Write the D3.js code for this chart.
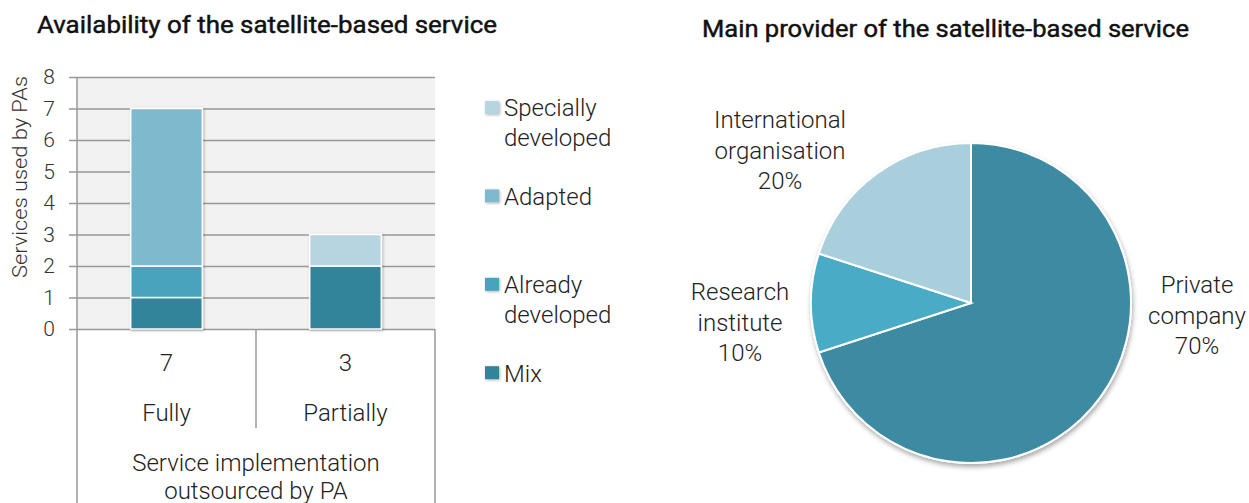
<!DOCTYPE html>
<html>
<head>
<meta charset="utf-8">
<script src="https://cdn.jsdelivr.net/npm/d3@7"></script>
<style>
  body { margin: 0; background: #fff; }
  svg { display: block; font-family: Roboto, "Noto Sans", sans-serif; }
</style>
</head>
<body>
<svg id="chart" width="1249" height="503"></svg>
<script>
// bar chart data
var categories = ["Fully", "Partially"];
var totals = [7, 3];
var seriesKeys = ["Mix", "Already developed", "Adapted", "Specially developed"];
var mixValues = [1, 2];
var alreadyValues = [1, 0];
var adaptedValues = [5, 0];
var speciallyValues = [0, 1];
var yTicks = [0, 1, 2, 3, 4, 5, 6, 7, 8];

// pie chart data
var providers = ["Private company", "Research institute", "International organisation"];
var providerShares = [70, 10, 20];
var providerLabels = [["Private", "company", "70%"], ["Research", "institute", "10%"], ["International", "organisation", "20%"]];

var seriesColors = ["#31849b", "#4aa3bc", "#7eb9ce", "#b7d5e0"];
var pieColors = ["#3d8ba3", "#4aabc6", "#aacfdc"];

var svg = d3.select("#chart");

var defs = svg.append("defs");
defs.append("filter").attr("id", "barShadow")
    .attr("x", "-20%").attr("y", "-20%").attr("width", "140%").attr("height", "140%")
  .append("feDropShadow")
    .attr("dx", 1).attr("dy", 1).attr("stdDeviation", 1.5)
    .attr("flood-color", "#000").attr("flood-opacity", 0.3);
defs.append("filter").attr("id", "pieShadow")
    .attr("x", "-20%").attr("y", "-20%").attr("width", "140%").attr("height", "140%")
  .append("feDropShadow")
    .attr("dx", 1).attr("dy", 3).attr("stdDeviation", 2.5)
    .attr("flood-color", "#000").attr("flood-opacity", 0.35);

var titleStyle = function(sel) {
  return sel.style("font-size", "23px").style("font-weight", 400)
    .style("fill", "#111").style("stroke", "#111").style("stroke-width", 0.45);
};

// ---------- left: stacked bars ----------
var plot = { left: 77, right: 435, top: 77, bottom: 329 };

svg.append("text")
    .attr("x", 37).attr("y", 33)
    .attr("textLength", 460).attr("lengthAdjust", "spacingAndGlyphs")
    .call(titleStyle)
    .text("Availability of the satellite-based service");

var x = d3.scaleBand()
    .domain(categories)
    .range([plot.left, plot.right])
    .paddingInner(0.6)
    .paddingOuter(0.3);

var y = d3.scaleLinear()
    .domain([0, 8])
    .range([plot.bottom, plot.top]);

svg.append("rect")
    .attr("x", plot.left).attr("y", plot.top)
    .attr("width", plot.right - plot.left).attr("height", plot.bottom - plot.top)
    .style("fill", "#f2f2f2");

var yAxis = svg.append("g")
    .attr("transform", "translate(" + plot.right + ",0)")
    .call(d3.axisLeft(y).tickValues(yTicks).tickSize(plot.right - 69).tickPadding(14));
yAxis.select(".domain").remove();
yAxis.selectAll(".tick line").style("stroke", "#999").style("stroke-width", 1.5);
yAxis.selectAll(".tick text")
    .style("font-size", "21px").style("fill", "#333")
    .style("font-family", "Roboto, sans-serif").attr("font-weight", 300);

svg.append("text")
    .attr("transform", "translate(20," + ((plot.top + 277) / 2) + ") rotate(-90)")
    .attr("text-anchor", "middle").attr("dy", "0.35em")
    .attr("textLength", 202).attr("lengthAdjust", "spacingAndGlyphs")
    .style("font-size", "20px").style("fill", "#333").style("font-weight", 300)
    .text("Services used by PAs");

// table lines below the plot
var lineStyle = function(sel) { return sel.style("stroke", "#999").style("stroke-width", 1.5); };
svg.append("line").attr("x1", plot.left).attr("x2", plot.left).attr("y1", plot.top).attr("y2", 503).call(lineStyle);
svg.append("line").attr("x1", plot.right).attr("x2", plot.right).attr("y1", plot.bottom).attr("y2", 503).call(lineStyle);
svg.append("line").attr("x1", (plot.left + plot.right) / 2).attr("x2", (plot.left + plot.right) / 2)
    .attr("y1", plot.bottom).attr("y2", 428).call(lineStyle);

var rows = categories.map(function(c, i) {
  return { category: c, "Mix": mixValues[i], "Already developed": alreadyValues[i],
           "Adapted": adaptedValues[i], "Specially developed": speciallyValues[i] };
});
var stacked = d3.stack().keys(seriesKeys)(rows);

var layers = svg.append("g").attr("filter", "url(#barShadow)")
  .selectAll("g.layer")
    .data(stacked)
  .enter().append("g")
    .attr("class", "layer")
    .style("fill", function(d, i) { return seriesColors[i]; });

layers.selectAll("rect")
    .data(function(d) { return d.filter(function(p) { return p[1] - p[0] > 0; }); })
  .enter().append("rect")
    .attr("x", function(d) { return x(d.data.category); })
    .attr("width", x.bandwidth())
    .attr("y", function(d) { return y(d[1]); })
    .attr("height", function(d) { return y(d[0]) - y(d[1]); })
    .style("stroke", "#fff").style("stroke-width", 1.5);

var bodyText = function(sel) {
  return sel.style("font-size", "24px").style("fill", "#222").style("font-weight", 300);
};
var catText = function(sel) {
  return sel.attr("text-anchor", "middle").attr("dy", "0.35em").call(bodyText);
};

svg.selectAll("text.total")
    .data(categories)
  .enter().append("text")
    .attr("class", "total")
    .attr("x", function(d) { return x(d) + x.bandwidth() / 2; })
    .attr("y", 363)
    .call(catText)
    .text(function(d, i) { return totals[i]; });

svg.selectAll("text.cat")
    .data(categories)
  .enter().append("text")
    .attr("class", "cat")
    .attr("x", function(d) { return x(d) + x.bandwidth() / 2; })
    .attr("y", 413)
    .call(catText)
    .text(function(d) { return d; });

svg.append("text").attr("x", (plot.left + plot.right) / 2).attr("y", 463).call(catText)
    .text("Service implementation");
svg.append("text").attr("x", (plot.left + plot.right) / 2).attr("y", 491).call(catText)
    .text("outsourced by PA");

// legend, listed top-down from the last series
var legendItems = [
  { lines: ["Specially", "developed"], color: seriesColors[3] },
  { lines: ["Adapted"], color: seriesColors[2] },
  { lines: ["Already", "developed"], color: seriesColors[1] },
  { lines: ["Mix"], color: seriesColors[0] }
];
var legend = svg.selectAll("g.legend")
    .data(legendItems)
  .enter().append("g")
    .attr("class", "legend")
    .attr("transform", function(d, i) { return "translate(485," + (108 + i * 88.4) + ")"; });
legend.append("rect")
    .attr("x", 0).attr("y", -7).attr("width", 14).attr("height", 13)
    .style("fill", function(d) { return d.color; })
    .attr("filter", "url(#barShadow)");
legend.append("text")
    .call(bodyText)
  .selectAll("tspan")
    .data(function(d) { return d.lines; })
  .enter().append("tspan")
    .attr("x", 19)
    .attr("y", function(d, i) { return i * 29.5; })
    .attr("dy", "0.35em")
    .text(function(d) { return d; });

// ---------- right: pie ----------
svg.append("text")
    .attr("x", 702).attr("y", 37)
    .attr("textLength", 487).attr("lengthAdjust", "spacingAndGlyphs")
    .call(titleStyle)
    .text("Main provider of the satellite-based service");

var pieCenter = [971, 303];
var radius = 160;

var pie = d3.pie().sort(null).value(function(d) { return d; });
var arc = d3.arc().innerRadius(0).outerRadius(radius);

var pieG = svg.append("g")
    .attr("transform", "translate(" + pieCenter[0] + "," + pieCenter[1] + ")");

pieG.append("circle").attr("r", radius + 1).style("fill", "#fff").attr("filter", "url(#pieShadow)");

pieG.selectAll("path")
    .data(pie(providerShares))
  .enter().append("path")
    .attr("d", arc)
    .style("fill", function(d, i) { return pieColors[i]; })
    .style("stroke", "#fff").style("stroke-width", 2)
    .append("title").text(function(d, i) { return providers[i]; });

// label anchors relative to the pie centre (hand placed in the original)
var labelOffsets = [[226, -18], [-231, -11], [-191, -183]];
var labels = pieG.selectAll("text.plabel")
    .data(providerLabels)
  .enter().append("text")
    .attr("class", "plabel")
    .attr("text-anchor", "middle")
    .call(bodyText);
labels.selectAll("tspan")
    .data(function(d, i) { return d.map(function(t) { return { t: t, o: labelOffsets[i] }; }); })
  .enter().append("tspan")
    .attr("x", function(d) { return d.o[0]; })
    .attr("y", function(d, i) { return d.o[1] + i * 30.5; })
    .attr("dy", "0.35em")
    .text(function(d) { return d.t; });
</script>
</body>
</html>
